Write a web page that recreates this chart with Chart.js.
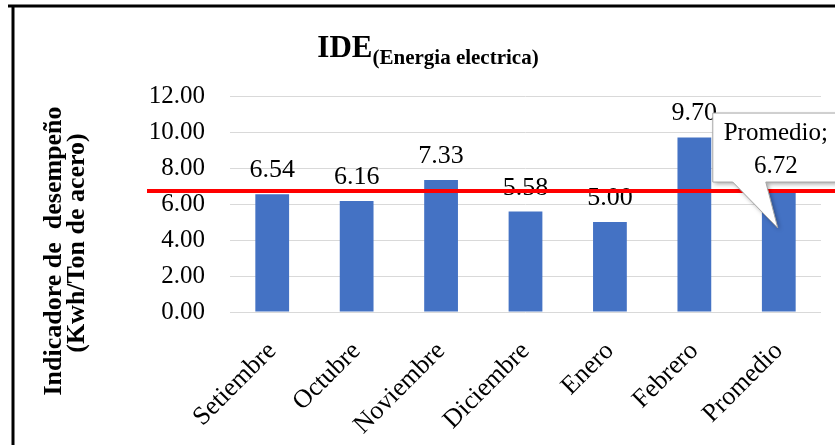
<!DOCTYPE html>
<html lang="es">
<head>
<meta charset="UTF-8">
<title>IDE (Energia electrica)</title>
<script src="https://cdn.jsdelivr.net/npm/chart.js"></script>
<style>
  html, body { margin: 0; padding: 0; background: #fff; }
  canvas { display: block; }
</style>
</head>
<body>
<canvas id="ideChart" width="835" height="445"></canvas>
<script>
// datos del grafico
const meses = ['Setiembre', 'Octubre', 'Noviembre', 'Diciembre', 'Enero', 'Febrero', 'Promedio'];
const valores = [6.54, 6.16, 7.33, 5.58, 5.00, 9.70, 6.72];
const promedio = 6.72;
const yTicks = [0, 2, 4, 6, 8, 10, 12];

const tituloPrincipal = 'IDE';
const tituloSub = '(Energia electrica)';
const yTitulo = ['Indicadore de  desempeño', '(Kwh/Ton de acero)'];

const serif = '"Liberation Serif", "Times New Roman", serif';

// marco negro + titulo con subindice + titulo del eje Y
const decoracion = {
  id: 'decoracion',
  afterDraw(chart) {
    const ctx = chart.ctx;
    ctx.save();
    ctx.strokeStyle = '#000';
    ctx.lineWidth = 3;
    ctx.beginPath();
    ctx.moveTo(8, 6); ctx.lineTo(835, 6);
    ctx.moveTo(13, 6); ctx.lineTo(13, 445);
    ctx.stroke();

    ctx.fillStyle = '#000';
    ctx.textAlign = 'left';
    ctx.textBaseline = 'alphabetic';
    const big = 'bold 31px ' + serif, small = 'bold 21px ' + serif;
    ctx.font = big;
    const w1 = ctx.measureText(tituloPrincipal).width;
    ctx.font = small;
    const w2 = ctx.measureText(tituloSub).width;
    const x0 = 428 - (w1 + w2) / 2;
    ctx.font = big;
    ctx.fillText(tituloPrincipal, x0, 57);
    ctx.font = small;
    ctx.fillText(tituloSub, x0 + w1, 64);

    // titulo del eje Y, rotado
    ctx.font = 'bold 26px ' + serif;
    ctx.textAlign = 'center';
    ctx.textBaseline = 'middle';
    const pos = [[54, 251], [77, 243]];
    yTitulo.forEach((t, i) => {
      ctx.save();
      ctx.translate(pos[i][0], pos[i][1]);
      ctx.rotate(-Math.PI / 2);
      ctx.fillText(t, 0, 0);
      ctx.restore();
    });
    ctx.restore();
  }
};

// etiquetas de valores, linea del promedio y llamada
const etiquetas = {
  id: 'etiquetas',
  afterDatasetsDraw(chart) {
    const ctx = chart.ctx;
    const meta = chart.getDatasetMeta(0);
    const yScale = chart.scales.y;
    ctx.save();
    ctx.fillStyle = '#000';
    ctx.font = '26px ' + serif;
    ctx.textAlign = 'center';
    ctx.textBaseline = 'alphabetic';
    meta.data.forEach((bar, i) => {
      if (i === meses.length - 1) return;
      ctx.fillText(valores[i].toFixed(2), bar.x, bar.y - 17);
    });

    // linea roja del promedio
    const yLine = yScale.getPixelForValue(promedio);
    ctx.strokeStyle = '#ff0000';
    ctx.lineWidth = 4;
    ctx.beginPath();
    ctx.moveTo(147, yLine);
    ctx.lineTo(835, yLine);
    ctx.stroke();

    // llamada "Promedio; 6.72"
    const bx = meta.data[meses.length - 1].x;
    const top = yLine - 78, bottom = yLine - 9;
    const left = bx - 66, right = bx + 70;
    ctx.beginPath();
    ctx.moveTo(left, top);
    ctx.lineTo(right, top);
    ctx.lineTo(right, bottom);
    ctx.lineTo(bx - 13, bottom);
    ctx.lineTo(bx - 1, yLine + 37);
    ctx.lineTo(bx - 46, bottom);
    ctx.lineTo(left, bottom);
    ctx.closePath();
    ctx.shadowColor = 'rgba(0,0,0,0.35)';
    ctx.shadowBlur = 4;
    ctx.shadowOffsetX = 2;
    ctx.shadowOffsetY = 2;
    ctx.fillStyle = '#fff';
    ctx.fill();
    ctx.shadowColor = 'transparent';
    ctx.strokeStyle = '#a6a6a6';
    ctx.lineWidth = 1;
    ctx.stroke();

    ctx.fillStyle = '#000';
    ctx.font = '25px ' + serif;
    ctx.fillText(meses[meses.length - 1] + ';', bx - 3, top + 27);
    ctx.fillText(promedio.toFixed(2), bx - 3, top + 60);
    ctx.restore();
  }
};

const ctx = document.getElementById('ideChart').getContext('2d');
new Chart(ctx, {
  type: 'bar',
  data: {
    labels: meses,
    datasets: [{
      label: 'IDE',
      data: valores,
      backgroundColor: '#4472C4',
      borderWidth: 0,
      categoryPercentage: 0.8,
      barPercentage: 0.5
    }]
  },
  options: {
    responsive: false,
    animation: false,
    devicePixelRatio: 1,
    layout: { padding: { top: 96, right: 14, bottom: 0, left: 0 } },
    plugins: {
      legend: { display: false },
      tooltip: { enabled: false },
      title: { display: false }
    },
    scales: {
      x: {
        grid: { display: false },
        border: { display: false },
        ticks: {
          color: '#000',
          font: { family: serif, size: 26 },
          maxRotation: 45,
          minRotation: 45,
          autoSkip: false,
          padding: 16
        },
        afterFit(s) { s.height = 133; }
      },
      y: {
        min: 0,
        max: 12,
        afterBuildTicks(s) { s.ticks = yTicks.map(v => ({ value: v })); },
        grid: { color: '#d9d9d9', lineWidth: 1, drawTicks: false },
        border: { display: false },
        ticks: {
          color: '#000',
          font: { family: serif, size: 25 },
          padding: 25,
          callback: v => Number(v).toFixed(2)
        },
        afterFit(s) { s.width = 230; }
      }
    }
  },
  plugins: [decoracion, etiquetas]
});
</script>
</body>
</html>
